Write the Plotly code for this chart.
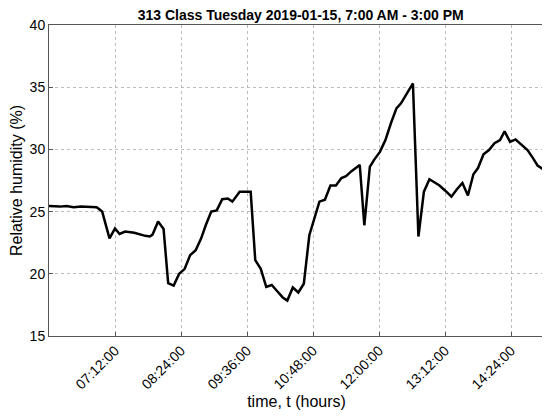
import plotly.graph_objects as go

times = ["06:00", "06:12", "06:19", "06:27", "06:35", "06:52", "06:58", "07:06", "07:12", "07:17",
         "07:23", "07:33", "07:45", "07:50", "07:53", "07:59", "08:05", "08:10", "08:16", "08:22",
         "08:28", "08:34", "08:40", "08:46", "08:51", "08:57", "09:03", "09:09", "09:15", "09:20",
         "09:28", "09:40", "09:45", "09:51", "09:57", "10:03", "10:09", "10:15", "10:20", "10:26",
         "10:32", "10:38", "10:44", "10:50", "10:55", "11:01", "11:07", "11:13", "11:19", "11:24",
         "11:30", "11:39", "11:44", "11:50", "11:55", "12:01", "12:07", "12:13", "12:19", "12:24",
         "12:30", "12:37", "12:43", "12:49", "12:55", "13:00", "13:06", "13:12", "13:19", "13:25",
         "13:31", "13:37", "13:43", "13:48", "13:54", "14:00", "14:06", "14:12", "14:17", "14:23",
         "14:29", "14:35", "14:42", "14:48", "14:53", "15:00"]
humidity = [25.45, 25.4, 25.45, 25.35, 25.4, 25.35, 25.0, 22.85, 23.65, 23.2,
            23.4, 23.3, 23.05, 23.0, 23.15, 24.2, 23.6, 19.25, 19.05, 20.0,
            20.4, 21.5, 21.9, 22.85, 23.9, 25.0, 25.1, 26.0, 26.05, 25.8,
            26.6, 26.6, 21.1, 20.4, 18.95, 19.1, 18.6, 18.1, 17.85, 18.9,
            18.5, 19.2, 23.1, 24.6, 25.8, 25.95, 27.1, 27.1, 27.7, 27.85,
            28.25, 28.75, 23.9, 28.6, 29.2, 29.8, 30.75, 32.1, 33.3, 33.7,
            34.4, 35.3, 23.0, 26.6, 27.6, 27.4, 27.1, 26.7, 26.2, 26.8,
            27.3, 26.3, 28.0, 28.5, 29.6, 29.95, 30.5, 30.75, 31.45, 30.6,
            30.8, 30.4, 29.95, 29.3, 28.7, 28.35]
tick_labels = ["07:12:00", "08:24:00", "09:36:00", "10:48:00", "12:00:00", "13:12:00", "14:24:00"]

day = "2019-01-15 "
x = [day + t for t in times]
tickvals = [day + t for t in tick_labels]

fig = go.Figure(go.Scatter(x=x, y=humidity, mode="lines",
                           line=dict(color="black", width=2.5)))

axis_style = dict(showline=True, mirror=True, linecolor="#555", linewidth=1,
                  showgrid=True, gridcolor="#bbb", griddash="dot", gridwidth=1,
                  ticks="inside", ticklen=4, tickcolor="#555", zeroline=False,
                  automargin=False, tickfont=dict(size=14, color="black"))

fig.update_xaxes(range=[day + "06:00", day + "15:00"], tickvals=tickvals, ticktext=tick_labels,
                 tickangle=-45, title=dict(text="time, t (hours)", font=dict(size=16), standoff=4),
                 **axis_style)
fig.update_yaxes(range=[15, 40], dtick=5,
                 title=dict(text="Relative humidity (%)", font=dict(size=16), standoff=4),
                 **axis_style)

# the page sits 8px in from the window edge, so the figure is a bit smaller
fig.update_layout(
    width=542, height=412,
    margin=dict(l=41, r=6, t=17, b=84),
    paper_bgcolor="white", plot_bgcolor="white",
    font=dict(family="Liberation Sans, Arial", color="black"),
    title=dict(text="<b>313 Class Tuesday 2019-01-15, 7:00 AM - 3:00 PM</b>",
               x=0.54, xanchor="center", y=0.982, yanchor="middle", font=dict(size=14)),
    showlegend=False,
)

fig.write_html("out.html")
